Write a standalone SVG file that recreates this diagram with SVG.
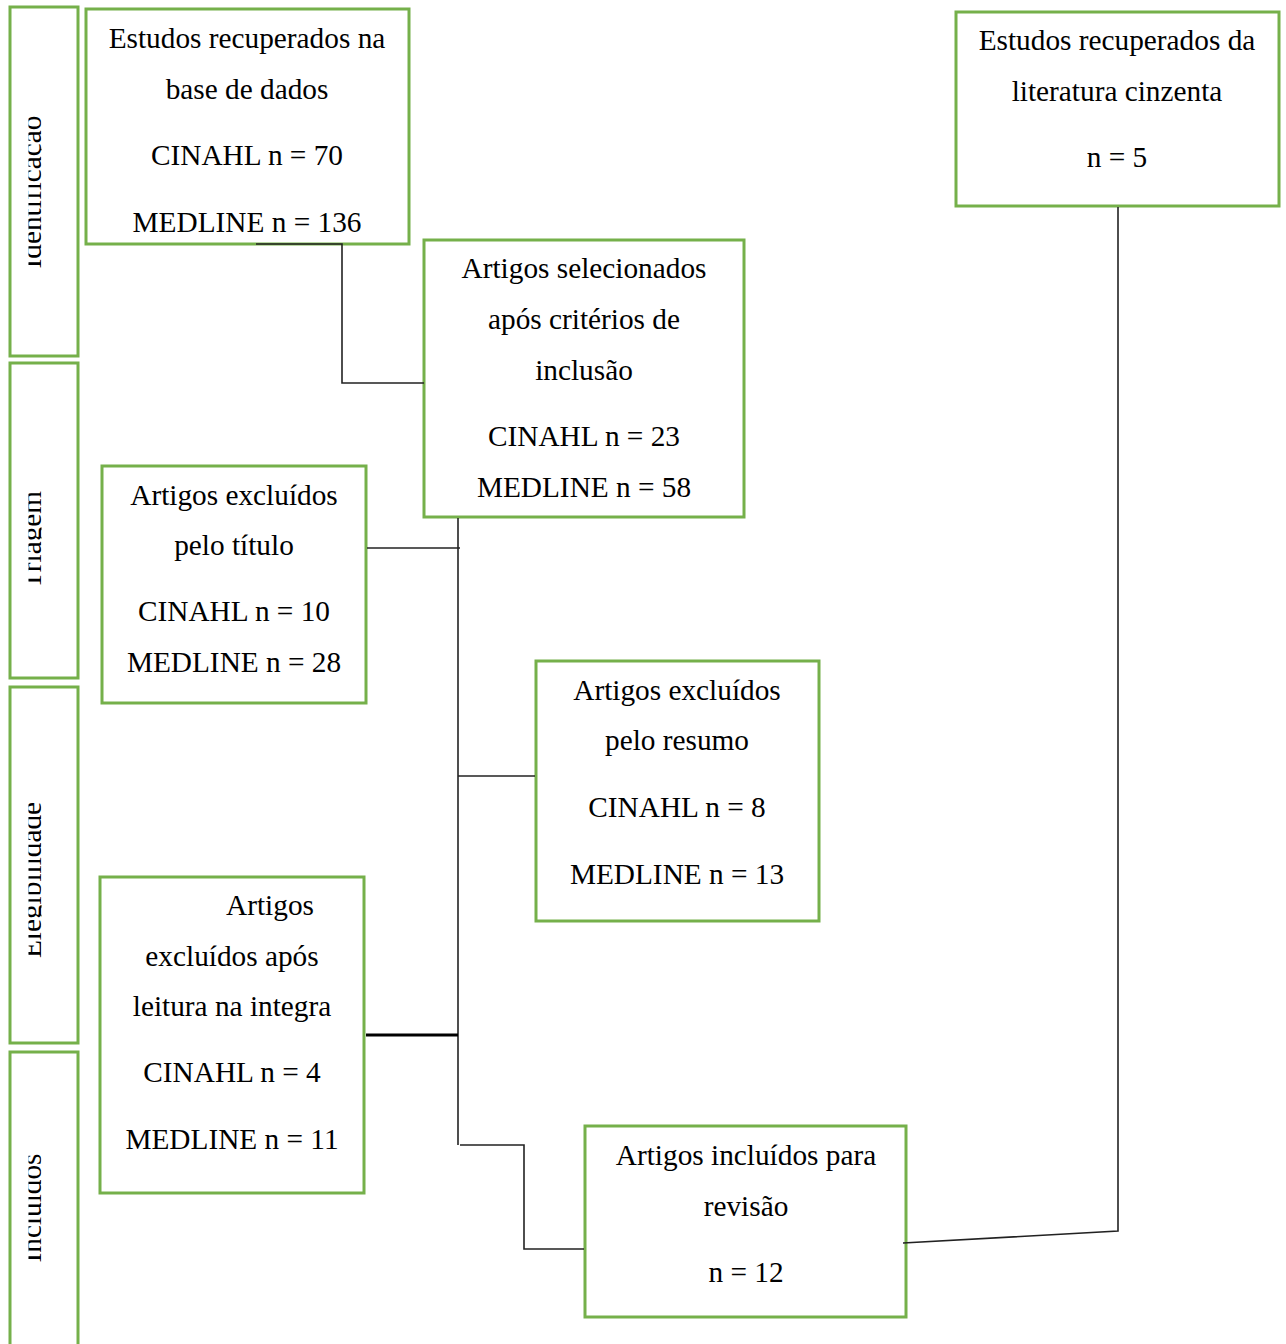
<svg xmlns="http://www.w3.org/2000/svg" width="1286" height="1344" viewBox="0 0 1286 1344">
<style>
.box{fill:#fff;stroke:#75b04a;stroke-width:3}
.t{font-family:"Liberation Serif","Times New Roman",serif;font-size:29.3px;fill:#000;text-anchor:middle}
.c{fill:none;stroke:#222;stroke-width:1.6}
.ck{fill:none;stroke:#000;stroke-width:3.2}
</style>
<defs>
<clipPath id="lab" clipPathUnits="userSpaceOnUse"><rect x="28.5" y="0" width="13" height="1344"/></clipPath>
</defs>
<rect width="1286" height="1344" fill="#fff"/>
<g id="stage-identificacao">
<rect class="box" x="10" y="7" width="68" height="349"/>
<g clip-path="url(#lab)"><text class="t" transform="translate(41,192) rotate(-90)">Identificação</text></g>
</g>
<g id="stage-triagem">
<rect class="box" x="10" y="363" width="68" height="315"/>
<g clip-path="url(#lab)"><text class="t" transform="translate(41,540) rotate(-90)">Triagem</text></g>
</g>
<g id="stage-elegibilidade">
<rect class="box" x="10" y="687" width="68" height="356"/>
<g clip-path="url(#lab)"><text class="t" transform="translate(41,880) rotate(-90)">Elegibilidade</text></g>
</g>
<g id="stage-incluidos">
<rect class="box" x="10" y="1052" width="68" height="300"/>
<g clip-path="url(#lab)"><text class="t" transform="translate(41,1208) rotate(-90)">Incluídos</text></g>
</g>
<g id="node-base-dados">
<rect class="box" x="86" y="9" width="323" height="235"/>
<text class="t" x="247" y="48">Estudos recuperados na</text>
<text class="t" x="247" y="99">base de dados</text>
<text class="t" x="247" y="165">CINAHL n = 70</text>
<text class="t" x="247" y="232">MEDLINE n = 136</text>
</g>
<g id="node-literatura-cinzenta">
<rect class="box" x="956" y="12" width="323" height="194"/>
<text class="t" x="1117" y="50">Estudos recuperados da</text>
<text class="t" x="1117" y="101">literatura cinzenta</text>
<text class="t" x="1117" y="167">n = 5</text>
</g>
<g id="node-selecionados">
<rect class="box" x="424" y="240" width="320" height="277"/>
<text class="t" x="584" y="278">Artigos selecionados</text>
<text class="t" x="584" y="329">após critérios de</text>
<text class="t" x="584" y="380">inclusão</text>
<text class="t" x="584" y="446">CINAHL n = 23</text>
<text class="t" x="584" y="497">MEDLINE n = 58</text>
</g>
<g id="node-excluidos-titulo">
<rect class="box" x="102" y="466" width="264" height="237"/>
<text class="t" x="234" y="505">Artigos excluídos</text>
<text class="t" x="234" y="555">pelo título</text>
<text class="t" x="234" y="621">CINAHL n = 10</text>
<text class="t" x="234" y="672">MEDLINE n = 28</text>
</g>
<g id="node-excluidos-resumo">
<rect class="box" x="536" y="661" width="283" height="260"/>
<text class="t" x="677" y="700">Artigos excluídos</text>
<text class="t" x="677" y="750">pelo resumo</text>
<text class="t" x="677" y="817">CINAHL n = 8</text>
<text class="t" x="677" y="884">MEDLINE n = 13</text>
</g>
<g id="node-excluidos-integra">
<rect class="box" x="100" y="877" width="264" height="316"/>
<text class="t" x="270" y="915">Artigos</text>
<text class="t" x="232" y="966">excluídos após</text>
<text class="t" x="232" y="1016">leitura na integra</text>
<text class="t" x="232" y="1082">CINAHL n = 4</text>
<text class="t" x="232" y="1149">MEDLINE n = 11</text>
</g>
<g id="node-incluidos">
<rect class="box" x="585" y="1126" width="321" height="191"/>
<text class="t" x="746" y="1165">Artigos incluídos para</text>
<text class="t" x="746" y="1216">revisão</text>
<text class="t" x="746" y="1282">n = 12</text>
</g>
<g id="connectors">
<path class="c" d="M256,244 H342 V383 H424"/>
<path class="c" d="M458,518 V1145"/>
<path class="c" d="M367,548 H460"/>
<path class="c" d="M458,776 H535"/>
<path class="ck" d="M366,1035 H458"/>
<path class="c" d="M460,1145 H524 V1249 H584"/>
<path class="c" d="M1118,207 V1231 L903,1243"/>
</g>
</svg>
